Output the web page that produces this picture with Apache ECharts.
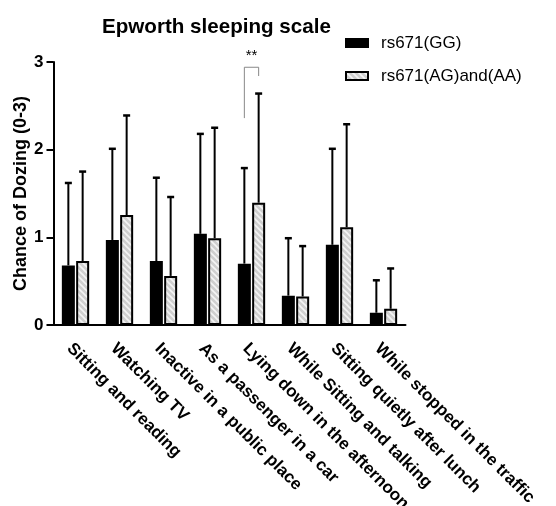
<!DOCTYPE html>
<html><head><meta charset="utf-8">
<script src="https://cdn.jsdelivr.net/npm/echarts@6/dist/echarts.min.js"></script>
<style>html,body{margin:0;padding:0;background:#fff}#c{width:556px;height:506px}</style>
</head><body><div id="c"></div>
<script>
// ---- data ----
const categories = ['Sitting and reading','Watching TV','Inactive in a public place','As a passenger in a car','Lying down in the afternoon','While Sitting and talking','Sitting quietly after lunch','While stopped in the traffic'];
const seriesNames = ['rs671(GG)','rs671(AG)and(AA)'];
const ggMean = [0.68, 0.97, 0.73, 1.04, 0.70, 0.335, 0.915, 0.14];
const ggSD   = [0.94, 1.04, 0.95, 1.14, 1.09, 0.655, 1.095, 0.37];
const agMean = [0.73, 1.255, 0.56, 0.99, 1.395, 0.325, 1.115, 0.185];
const agSD   = [1.02, 1.135, 0.90, 1.26, 1.245, 0.575, 1.175, 0.46];
const yTicks = [0, 1, 2, 3];
const sigCategory = 4, sigLeftY = 2.36, sigTopY = 2.94, sigRightY = 2.84, sigLabel = '**';

// ---- styles ----
const FONT = '"Liberation Sans", Arial, Helvetica, sans-serif';
const BAR_W = 13, BAR_GAP = 1.3, OFF = (BAR_W + BAR_GAP) / 2;

function hatch() {
  const c = document.createElement('canvas');
  c.width = 6; c.height = 6;
  const g = c.getContext('2d');
  g.fillStyle = '#cfcfcf'; g.fillRect(0, 0, 6, 6);
  g.strokeStyle = '#f4f4f4'; g.lineWidth = 1.6;
  for (const o of [-6, 0, 6]) { g.beginPath(); g.moveTo(o - 1, -1); g.lineTo(o + 7, 7); g.stroke(); }
  return c;
}

const errData = [];
ggMean.forEach((m, i) => errData.push([i, m, m + ggSD[i], 0]));
agMean.forEach((m, i) => errData.push([i, m, m + agSD[i], 1]));

const chart = echarts.init(document.getElementById('c'), null, {renderer: 'canvas'});
chart.setOption({
  animation: false,
  textStyle: {fontFamily: FONT, color: '#000'},
  title: {
    text: 'Epworth sleeping scale', left: 97, top: 12,
    textStyle: {fontFamily: FONT, fontSize: 20.6, fontWeight: 'bold', color: '#000'}
  },
  legend: {
    orient: 'vertical', left: 345, top: 33, padding: 0, itemWidth: 22, itemHeight: 8, itemGap: 13, icon: 'rect',
    data: seriesNames,
    textStyle: {fontFamily: FONT, fontSize: 17, color: '#000', padding: [0, 0, 0, 8], lineHeight: 20}
  },
  grid: {left: 53.5, right: 150.5, top: 62, bottom: 181, containLabel: false, outerBoundsMode: 'none'},
  xAxis: {
    type: 'category', data: categories,
    axisLine: {lineStyle: {color: '#000', width: 2}},
    axisTick: {alignWithLabel: true, length: 5, lineStyle: {color: '#000', width: 2}},
    axisLabel: {interval: 0, rotate: -45, margin: 15, verticalAlign: 'top', fontFamily: FONT, fontSize: 17, fontWeight: 'bold', color: '#000'}
  },
  yAxis: {
    type: 'value', min: yTicks[0], max: yTicks[yTicks.length - 1], interval: 1,
    name: 'Chance of Dozing (0-3)', nameLocation: 'middle', nameGap: 23, nameMoveOverlap: false,
    nameTextStyle: {fontFamily: FONT, fontSize: 18, fontWeight: 'bold', color: '#000'},
    axisLine: {show: true, lineStyle: {color: '#000', width: 2}},
    axisTick: {show: true, length: 7, lineStyle: {color: '#000', width: 2}},
    axisLabel: {margin: 10, fontFamily: FONT, fontSize: 17, fontWeight: 'bold', color: '#000'},
    splitLine: {show: false}
  },
  series: [
    {name: seriesNames[0], type: 'bar', data: ggMean, barWidth: BAR_W, barGap: (BAR_GAP / BAR_W * 100) + '%',
     itemStyle: {color: '#000', borderColor: '#000', borderWidth: 1.5}},
    {name: seriesNames[1], type: 'bar', data: agMean, barWidth: BAR_W,
     itemStyle: {color: {image: hatch(), repeat: 'repeat'}, borderColor: '#000', borderWidth: 2}},
    {type: 'custom', data: errData, z: 5, silent: true, encode: {x: 0, y: [1, 2]},
     renderItem: function (params, api) {
       const i = api.value(0), side = api.value(3);
       const off = side === 0 ? -OFF : OFF;
       const p0 = api.coord([i, api.value(1)]), p1 = api.coord([i, api.value(2)]);
       const x = p0[0] + off;
       return {type: 'group', children: [
         {type: 'line', shape: {x1: x, y1: p0[1], x2: x, y2: p1[1]}, style: {stroke: '#000', lineWidth: 2}},
         {type: 'line', shape: {x1: x - 3.5, y1: p1[1], x2: x + 3.5, y2: p1[1]}, style: {stroke: '#000', lineWidth: 2.5}}
       ]};
     }},
    {type: 'custom', data: [[sigCategory, sigLeftY, sigTopY, sigRightY]], z: 5, silent: true, encode: {x: 0, y: [1, 2, 3]},
     renderItem: function (params, api) {
       const i = api.value(0);
       const l = api.coord([i, api.value(1)]), t = api.coord([i, api.value(2)]), r = api.coord([i, api.value(3)]);
       const xl = l[0] - OFF, xr = r[0] + OFF;
       return {type: 'group', children: [
         {type: 'polyline', shape: {points: [[xl, l[1]], [xl, t[1]], [xr, t[1]], [xr, r[1]]]},
          style: {stroke: '#888', lineWidth: 1, fill: null}},
         {type: 'text', style: {text: sigLabel, x: (xl + xr) / 2, y: t[1] - 4, align: 'center', verticalAlign: 'bottom',
          font: '15px ' + FONT, fill: '#000'}}
       ]};
     }}
  ]
});
</script></body></html>
